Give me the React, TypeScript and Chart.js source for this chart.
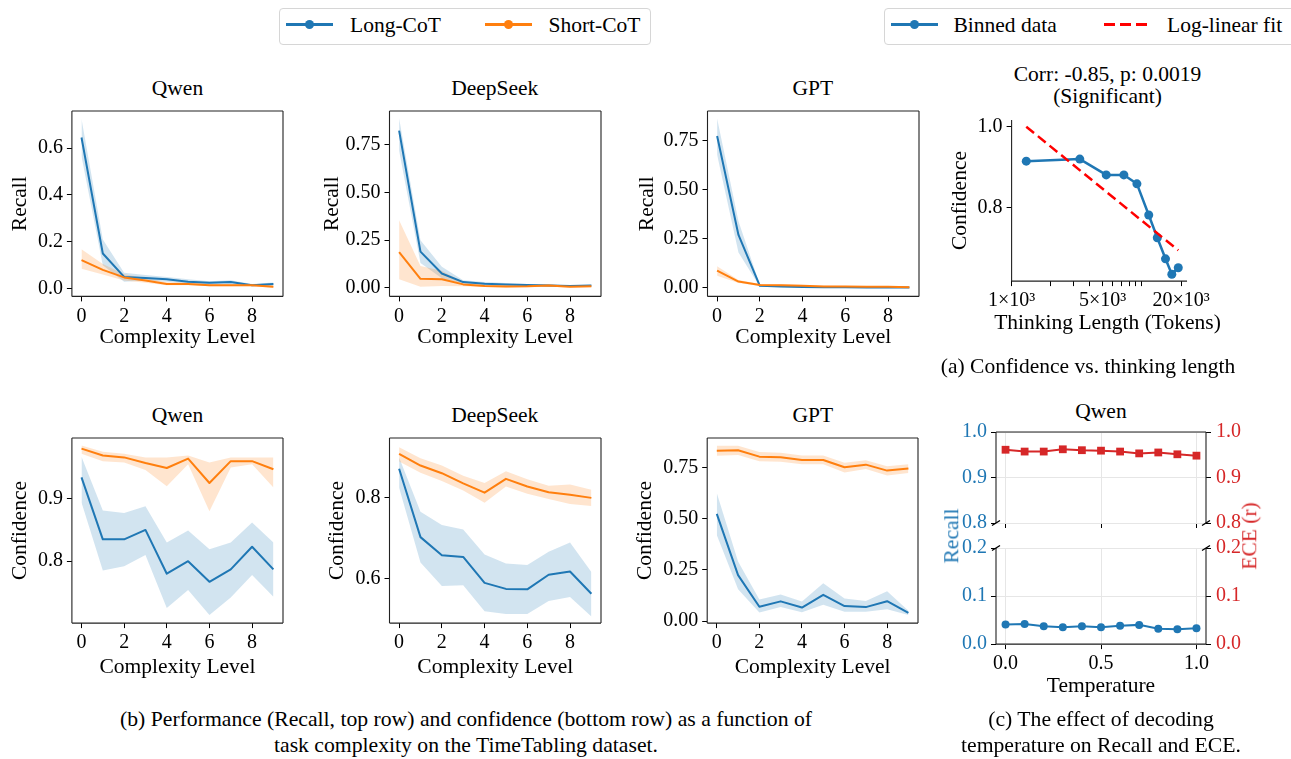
import React, { useEffect, useRef } from 'react';
import { Chart, registerables } from 'chart.js';
Chart.register(...registerables);

const FONT = '"Liberation Serif", "Times New Roman", Times, serif';
const BLUE = '#1f77b4';
const ORANGE = '#ff7f0e';
const RED = '#d62728';
const FIT_RED = '#ff0000';
const BLUE_BAND = 'rgba(31,119,180,0.2)';
const ORANGE_BAND = 'rgba(255,127,14,0.2)';

// ---------- data: complexity panels ----------
const complexityLevels = [0, 1, 2, 3, 4, 5, 6, 7, 8, 9];
const complexityTicks = [0, 2, 4, 6, 8];

// Recall, Qwen
const qwenRecallLong = [0.645, 0.150, 0.050, 0.045, 0.040, 0.030, 0.025, 0.028, 0.015, 0.020];
const qwenRecallLongLo = [0.565, 0.100, 0.030, 0.035, 0.030, 0.022, 0.018, 0.020, 0.010, 0.014];
const qwenRecallLongHi = [0.725, 0.210, 0.068, 0.058, 0.050, 0.040, 0.032, 0.036, 0.020, 0.026];
const qwenRecallShort = [0.122, 0.080, 0.048, 0.035, 0.020, 0.020, 0.015, 0.015, 0.015, 0.008];
const qwenRecallShortLo = [0.085, 0.060, 0.035, 0.025, 0.015, 0.015, 0.010, 0.010, 0.010, 0.004];
const qwenRecallShortHi = [0.168, 0.105, 0.062, 0.045, 0.027, 0.026, 0.020, 0.020, 0.020, 0.012];

// Recall, DeepSeek
const dsRecallLong = [0.825, 0.190, 0.075, 0.030, 0.022, 0.018, 0.015, 0.012, 0.010, 0.012];
const dsRecallLongLo = [0.720, 0.130, 0.050, 0.020, 0.015, 0.012, 0.010, 0.008, 0.006, 0.008];
const dsRecallLongHi = [0.890, 0.250, 0.110, 0.040, 0.030, 0.025, 0.020, 0.017, 0.014, 0.016];
const dsRecallShort = [0.187, 0.047, 0.045, 0.018, 0.010, 0.007, 0.008, 0.012, 0.006, 0.008];
const dsRecallShortLo = [0.045, 0.005, 0.010, 0.008, 0.004, 0.002, 0.003, 0.005, 0.002, 0.003];
const dsRecallShortHi = [0.355, 0.115, 0.090, 0.030, 0.017, 0.013, 0.014, 0.020, 0.011, 0.013];

// Recall, GPT
const gptRecallLong = [0.775, 0.270, 0.010, 0.006, 0.004, 0.003, 0.003, 0.002, 0.002, 0.002];
const gptRecallLongLo = [0.680, 0.180, 0.005, 0.003, 0.002, 0.001, 0.001, 0.001, 0.001, 0.001];
const gptRecallLongHi = [0.865, 0.340, 0.016, 0.010, 0.007, 0.005, 0.005, 0.004, 0.004, 0.004];
const gptRecallShort = [0.088, 0.032, 0.014, 0.013, 0.010, 0.007, 0.006, 0.005, 0.005, 0.003];
const gptRecallShortLo = [0.062, 0.024, 0.009, 0.008, 0.006, 0.004, 0.003, 0.003, 0.003, 0.001];
const gptRecallShortHi = [0.110, 0.040, 0.019, 0.018, 0.014, 0.010, 0.009, 0.008, 0.008, 0.006];

// Confidence, Qwen
const qwenConfLong = [0.934, 0.835, 0.835, 0.850, 0.780, 0.800, 0.767, 0.787, 0.823, 0.787];
const qwenConfLongLo = [0.894, 0.785, 0.792, 0.810, 0.725, 0.754, 0.714, 0.742, 0.778, 0.743];
const qwenConfLongHi = [0.967, 0.881, 0.877, 0.888, 0.830, 0.849, 0.819, 0.830, 0.862, 0.830];
const qwenConfShort = [0.980, 0.969, 0.966, 0.957, 0.949, 0.964, 0.925, 0.960, 0.960, 0.947];
const qwenConfShortLo = [0.972, 0.960, 0.958, 0.946, 0.920, 0.955, 0.880, 0.950, 0.955, 0.918];
const qwenConfShortHi = [0.985, 0.975, 0.972, 0.966, 0.966, 0.969, 0.958, 0.966, 0.966, 0.966];

// Confidence, DeepSeek
const dsConfLong = [0.872, 0.703, 0.658, 0.654, 0.590, 0.575, 0.574, 0.610, 0.618, 0.563];
const dsConfLongLo = [0.825, 0.640, 0.582, 0.584, 0.520, 0.513, 0.513, 0.545, 0.555, 0.507];
const dsConfLongHi = [0.900, 0.766, 0.733, 0.722, 0.660, 0.638, 0.634, 0.667, 0.690, 0.617];
const dsConfShort = [0.909, 0.880, 0.861, 0.836, 0.813, 0.847, 0.828, 0.814, 0.808, 0.800];
const dsConfShortLo = [0.890, 0.862, 0.842, 0.818, 0.788, 0.828, 0.810, 0.797, 0.785, 0.780];
const dsConfShortHi = [0.925, 0.898, 0.880, 0.855, 0.837, 0.866, 0.846, 0.830, 0.833, 0.820];

// Confidence, GPT
const gptConfLong = [0.523, 0.224, 0.070, 0.096, 0.066, 0.128, 0.073, 0.068, 0.097, 0.040];
const gptConfLongLo = [0.420, 0.155, 0.042, 0.068, 0.043, 0.080, 0.045, 0.045, 0.058, 0.030];
const gptConfLongHi = [0.625, 0.290, 0.105, 0.130, 0.095, 0.185, 0.110, 0.098, 0.145, 0.050];
const gptConfShort = [0.831, 0.833, 0.802, 0.799, 0.786, 0.786, 0.750, 0.763, 0.734, 0.744];
const gptConfShortLo = [0.807, 0.810, 0.780, 0.777, 0.765, 0.765, 0.725, 0.742, 0.710, 0.722];
const gptConfShortHi = [0.855, 0.855, 0.825, 0.821, 0.808, 0.808, 0.772, 0.785, 0.755, 0.765];

// ---------- data: confidence vs thinking length ----------
const thinkingLength = [1296, 3340, 5330, 7280, 9170, 11300, 13150, 15200, 17000, 19050];
const binnedConfidence = [0.915, 0.920, 0.881, 0.881, 0.859, 0.782, 0.726, 0.674, 0.636, 0.652];
const fitLength = [1296, 19050];
const fitConfidence = [1.0, 0.695];
const lengthTicks = [1000, 2000, 3000, 4000, 5000, 6000, 7000, 8000, 9000, 10000, 20000];
const lengthTickLabels: Record<number, string> = { 1000: '1×10³', 5000: '5×10³', 20000: '20×10³' };

// ---------- data: temperature ----------
const temperatures = [0.0, 0.1, 0.2, 0.3, 0.4, 0.5, 0.6, 0.7, 0.8, 0.9, 1.0];
const eceValues = [0.961, 0.957, 0.957, 0.962, 0.960, 0.959, 0.957, 0.953, 0.955, 0.951, 0.948];
const recallValues = [0.041, 0.042, 0.037, 0.035, 0.037, 0.035, 0.038, 0.040, 0.032, 0.031, 0.033];
const temperatureTicks = [0, 0.5, 1.0];

// ---------- helpers ----------
type Geo = { axisW: number; rightW: number; topPad: number; bottomH: number };

function axis(o: any) {
  const {
    key, min, max, ticks, fmt, size, title, position, type = 'linear',
    tickColor = '#000', grid = false, padding = 3, tickLength = 5,
  } = o;
  return {
    type, position, min, max,
    afterBuildTicks: (s: any) => { s.ticks = ticks.map((v: number) => ({ value: v })); },
    afterFit: (s: any) => { if (key === 'x') s.height = size; else s.width = size; },
    ticks: {
      autoSkip: false, maxRotation: 0, minRotation: 0, padding, color: tickColor,
      font: { family: FONT, size: 20 },
      callback: (v: any) => fmt(Number(v)),
    },
    grid: {
      display: true, drawOnChartArea: grid, drawTicks: true, tickLength,
      color: '#e6e6e6', lineWidth: 1, tickColor: '#000', tickWidth: 1,
    },
    border: { display: false },
    title: title
      ? { display: true, text: title, color: '#000', font: { family: FONT, size: 21.5, lineHeight: 1.2 }, padding: 0 }
      : { display: false },
  };
}

function framePlugin(sides: string, breaks?: 'top' | 'bottom') {
  return {
    id: 'frame',
    afterDraw(chart: any) {
      const { ctx, chartArea: a } = chart;
      ctx.save();
      ctx.strokeStyle = '#222';
      ctx.lineWidth = 1.1;
      ctx.beginPath();
      if (sides.includes('l')) { ctx.moveTo(a.left, a.top); ctx.lineTo(a.left, a.bottom); }
      if (sides.includes('r')) { ctx.moveTo(a.right, a.top); ctx.lineTo(a.right, a.bottom); }
      if (sides.includes('t')) { ctx.moveTo(a.left, a.top); ctx.lineTo(a.right, a.top); }
      if (sides.includes('b')) { ctx.moveTo(a.left, a.bottom); ctx.lineTo(a.right, a.bottom); }
      ctx.stroke();
      if (breaks) {
        const y = breaks === 'bottom' ? a.bottom : a.top;
        ctx.lineWidth = 1.4;
        ctx.strokeStyle = '#000';
        ctx.beginPath();
        for (const x of [a.left, a.right]) {
          ctx.moveTo(x - 4, y + 2.5);
          ctx.lineTo(x + 4, y - 2.5);
        }
        ctx.stroke();
      }
      ctx.restore();
    },
  };
}

const pts = (xs: number[], ys: number[]) => ys.map((y, i) => ({ x: xs[i], y }));

function bandDatasets(lm: number[], ll: number[], lh: number[], sm: number[], sl: number[], sh: number[]) {
  const base = { pointRadius: 0, pointHoverRadius: 0, tension: 0 };
  const X = complexityLevels;
  return [
    { ...base, data: pts(X, ll), borderWidth: 0, borderColor: 'rgba(0,0,0,0)', fill: false, order: 4 },
    { ...base, data: pts(X, lh), borderWidth: 0, borderColor: 'rgba(0,0,0,0)', backgroundColor: BLUE_BAND, fill: '-1', order: 4 },
    { ...base, data: pts(X, sl), borderWidth: 0, borderColor: 'rgba(0,0,0,0)', fill: false, order: 3 },
    { ...base, data: pts(X, sh), borderWidth: 0, borderColor: 'rgba(0,0,0,0)', backgroundColor: ORANGE_BAND, fill: '-1', order: 3 },
    { ...base, data: pts(X, lm), borderColor: BLUE, borderWidth: 2, borderJoinStyle: 'round', fill: false, order: 2 },
    { ...base, data: pts(X, sm), borderColor: ORANGE, borderWidth: 2, borderJoinStyle: 'round', fill: false, order: 1 },
  ];
}

function baseOptions(g: Geo, scales: any, extra: any = {}) {
  return {
    animation: false,
    responsive: false,
    maintainAspectRatio: false,
    events: [],
    layout: { padding: { left: 0, top: g.topPad, right: extra.rightPadding ?? g.rightW, bottom: 0 } },
    plugins: { legend: { display: false }, tooltip: { enabled: false }, title: { display: false } },
    scales,
  };
}

function ChartPanel(props: { l: number; t: number; w: number; h: number; geo: Geo; build: (g: Geo) => any }) {
  const ref = useRef<HTMLCanvasElement>(null);
  const { l, t, w, h, geo, build } = props;
  const cw = Math.round(geo.axisW + w + geo.rightW);
  const ch = Math.round(geo.topPad + h + geo.bottomH);
  useEffect(() => {
    const chart = new Chart(ref.current as HTMLCanvasElement, build(geo));
    return () => chart.destroy();
  }, []);
  return (
    <canvas
      ref={ref}
      width={cw}
      height={ch}
      style={{ position: 'absolute', left: l - geo.axisW, top: t - geo.topPad, width: cw, height: ch }}
    />
  );
}

function complexityPanel(
  yMin: number, yMax: number, yTicks: number[], dec: number, yTitle: string,
  series: number[][],
) {
  return (g: Geo) => ({
    type: 'line',
    data: { datasets: bandDatasets(series[0], series[1], series[2], series[3], series[4], series[5]) },
    options: baseOptions(g, {
      x: axis({ key: 'x', position: 'bottom', min: -0.45, max: 9.45, ticks: complexityTicks, fmt: (v: number) => String(v), size: g.bottomH, title: 'Complexity Level' }),
      y: axis({ key: 'y', position: 'left', min: yMin, max: yMax, ticks: yTicks, fmt: (v: number) => v.toFixed(dec), size: g.axisW, title: yTitle, padding: 4 }),
    }),
    plugins: [framePlugin('lrtb')],
  });
}

const TITLE_OFF = 12.9; // half of title line height (21.5 * 1.2 / 2)

function Txt(p: { x: number; y: number; size?: number; color?: string; rotate?: boolean; children: any; align?: 'center' | 'left' }) {
  const { x, y, size = 21.5, color = '#000', rotate, align = 'center' } = p;
  const tr = align === 'center' ? 'translate(-50%,-50%)' : 'translate(0,-50%)';
  return (
    <div
      style={{
        position: 'absolute', left: x, top: y, fontSize: size, lineHeight: 1, color,
        whiteSpace: 'nowrap', transform: rotate ? `${tr} rotate(-90deg)` : tr, fontFamily: FONT,
      }}
    >
      {p.children}
    </div>
  );
}

function Handle(p: { x1: number; x2: number; y: number; color: string; dot?: boolean; dashed?: boolean }) {
  const { x1, x2, y, color, dot = true, dashed = false } = p;
  const thick = dashed ? 3 : 2.5;
  return (
    <>
      <div
        style={{
          position: 'absolute', left: x1, top: y - thick / 2, width: x2 - x1, height: thick,
          background: dashed ? `repeating-linear-gradient(90deg, ${color} 0 11px, transparent 11px 16px)` : color,
        }}
      />
      {dot && (
        <div style={{ position: 'absolute', left: (x1 + x2) / 2 - 4.5, top: y - 4.5, width: 9, height: 9, borderRadius: '50%', background: color }} />
      )}
    </>
  );
}

// ---------- panels ----------
const TOP_T = 111, TOP_H = 185, BOT_T = 438, BOT_H = 185, PW = 211;
const COLS = [72, 389.3, 707.3];

export default function App() {
  const topGeo = (ylabOff: number): Geo => ({ axisW: ylabOff + TITLE_OFF, rightW: 10, topPad: 20, bottomH: 40.7 + TITLE_OFF });
  const botGeo = (ylabOff: number): Geo => ({ axisW: ylabOff + TITLE_OFF, rightW: 10, topPad: 20, bottomH: 44 + TITLE_OFF });

  const lengthPanel = (g: Geo) => ({
    type: 'line',
    data: {
      datasets: [
        {
          data: pts(fitLength, fitConfidence), borderColor: FIT_RED, borderWidth: 2.5, borderDash: [10, 5],
          pointRadius: 0, fill: false, order: 0, tension: 0,
        },
        {
          data: pts(thinkingLength, binnedConfidence), borderColor: BLUE, borderWidth: 2.5,
          pointRadius: 4.5, pointBackgroundColor: BLUE, pointBorderColor: BLUE, pointBorderWidth: 0,
          fill: false, order: 1, tension: 0, borderJoinStyle: 'round',
        },
      ],
    },
    options: baseOptions(g, {
      x: axis({
        key: 'x', type: 'logarithmic', position: 'bottom', min: 1000, max: 22250, ticks: lengthTicks,
        fmt: (v: number) => lengthTickLabels[v] ?? '', size: g.bottomH,
      }),
      y: axis({ key: 'y', position: 'left', min: 0.619, max: 1.0165, ticks: [0.8, 1.0], fmt: (v: number) => v.toFixed(1), size: g.axisW, title: 'Confidence', padding: 4 }),
    }),
    plugins: [framePlugin('lb')],
  });

  const tempScales = (g: Geo, min: number, max: number, yt: number[], showX: boolean) => ({
    x: axis({
      key: 'x', position: 'bottom', min: -0.05, max: 1.05, ticks: temperatureTicks,
      fmt: (v: number) => (showX ? v.toFixed(1) : ''), size: g.bottomH, title: showX ? 'Temperature' : undefined, grid: true,
    }),
    y: axis({ key: 'y', position: 'left', min, max, ticks: yt, fmt: (v: number) => v.toFixed(1), size: g.axisW, tickColor: BLUE, grid: true, padding: 4 }),
    y2: axis({ key: 'y', position: 'right', min, max, ticks: yt, fmt: (v: number) => v.toFixed(1), size: g.rightW, tickColor: RED, padding: 5 }),
  });

  const tempTop = (g: Geo) => ({
    type: 'line',
    data: {
      datasets: [
        {
          data: pts(temperatures, eceValues), yAxisID: 'y2', borderColor: RED, borderWidth: 2,
          pointStyle: 'rect', pointRadius: 5.5, pointBackgroundColor: RED, pointBorderWidth: 0, fill: false, tension: 0,
        },
      ],
    },
    options: baseOptions(g, tempScales(g, 0.8, 1.0, [0.8, 0.9, 1.0], false), { rightPadding: 0 }),
    plugins: [framePlugin('lrt', 'bottom')],
  });

  const tempBottom = (g: Geo) => ({
    type: 'line',
    data: {
      datasets: [
        {
          data: pts(temperatures, recallValues), yAxisID: 'y', borderColor: BLUE, borderWidth: 2,
          pointStyle: 'circle', pointRadius: 4, pointBackgroundColor: BLUE, pointBorderWidth: 0, fill: false, tension: 0,
        },
      ],
    },
    options: baseOptions(g, tempScales(g, 0.0, 0.2, [0.0, 0.1, 0.2], true), { rightPadding: 0 }),
    plugins: [framePlugin('lrb', 'top')],
  });

  return (
    <div style={{ position: 'fixed', left: 0, top: 0, width: 1291, height: 759, background: '#fff', overflow: 'hidden', fontFamily: FONT, color: '#000' }}>
      {/* legends */}
      <div style={{ position: 'absolute', left: 278.5, top: 7.5, width: 372, height: 37, border: '1px solid #d6d6d6', borderRadius: 4, boxSizing: 'border-box' }} />
      <Handle x1={286} x2={333} y={24.5} color={BLUE} />
      <Txt x={350} y={25.5} align="left">Long-CoT</Txt>
      <Handle x1={485} x2={532} y={24.5} color={ORANGE} />
      <Txt x={548.5} y={25.5} align="left">Short-CoT</Txt>

      <div style={{ position: 'absolute', left: 883.5, top: 7.5, width: 430, height: 37, border: '1px solid #d6d6d6', borderRadius: 4, boxSizing: 'border-box' }} />
      <Handle x1={891} x2={938} y={24.5} color={BLUE} />
      <Txt x={953.5} y={25.5} align="left">Binned data</Txt>
      <Handle x1={1104} x2={1147} y={24.5} color={FIT_RED} dot={false} dashed />
      <Txt x={1167} y={25.5} align="left">Log-linear fit</Txt>

      {/* titles */}
      <Txt x={COLS[0] + PW / 2} y={88.5}>Qwen</Txt>
      <Txt x={COLS[1] + PW / 2} y={88.5}>DeepSeek</Txt>
      <Txt x={COLS[2] + PW / 2} y={88.5}>GPT</Txt>
      <Txt x={COLS[0] + PW / 2} y={416}>Qwen</Txt>
      <Txt x={COLS[1] + PW / 2} y={416}>DeepSeek</Txt>
      <Txt x={COLS[2] + PW / 2} y={416}>GPT</Txt>
      <Txt x={1107.5} y={75}>Corr: -0.85, p: 0.0019</Txt>
      <Txt x={1107.5} y={96.5}>(Significant)</Txt>
      <Txt x={1101} y={411.5}>Qwen</Txt>

      {/* top row: recall */}
      <ChartPanel l={COLS[0]} t={TOP_T} w={PW} h={TOP_H} geo={topGeo(52)}
        build={complexityPanel(-0.033, 0.758, [0, 0.2, 0.4, 0.6], 1, 'Recall',
          [qwenRecallLong, qwenRecallLongLo, qwenRecallLongHi, qwenRecallShort, qwenRecallShortLo, qwenRecallShortHi])} />
      <ChartPanel l={COLS[1]} t={TOP_T} w={PW} h={TOP_H} geo={topGeo(57.6)}
        build={complexityPanel(-0.045, 0.928, [0, 0.25, 0.5, 0.75], 2, 'Recall',
          [dsRecallLong, dsRecallLongLo, dsRecallLongHi, dsRecallShort, dsRecallShortLo, dsRecallShortHi])} />
      <ChartPanel l={COLS[2]} t={TOP_T} w={PW} h={TOP_H} geo={topGeo(60.6)}
        build={complexityPanel(-0.044, 0.903, [0, 0.25, 0.5, 0.75], 2, 'Recall',
          [gptRecallLong, gptRecallLongLo, gptRecallLongHi, gptRecallShort, gptRecallShortLo, gptRecallShortHi])} />

      {/* bottom row: confidence */}
      <ChartPanel l={COLS[0]} t={BOT_T} w={PW} h={BOT_H} geo={botGeo(52)}
        build={complexityPanel(0.701, 0.997, [0.8, 0.9], 1, 'Confidence',
          [qwenConfLong, qwenConfLongLo, qwenConfLongHi, qwenConfShort, qwenConfShortLo, qwenConfShortHi])} />
      <ChartPanel l={COLS[1]} t={BOT_T} w={PW} h={BOT_H} geo={botGeo(52.6)}
        build={complexityPanel(0.4905, 0.948, [0.6, 0.8], 1, 'Confidence',
          [dsConfLong, dsConfLongLo, dsConfLongHi, dsConfShort, dsConfShortLo, dsConfShortHi])} />
      <ChartPanel l={COLS[2]} t={BOT_T} w={PW} h={BOT_H} geo={botGeo(62.3)}
        build={complexityPanel(-0.01, 0.893, [0, 0.25, 0.5, 0.75], 2, 'Confidence',
          [gptConfLong, gptConfLongLo, gptConfLongHi, gptConfShort, gptConfShortLo, gptConfShortHi])} />

      {/* (a) confidence vs thinking length */}
      <ChartPanel l={1011.7} t={120} w={191.6} h={161} geo={{ axisW: 51.7 + TITLE_OFF, rightW: 10, topPad: 20, bottomH: 42 + TITLE_OFF }} build={lengthPanel} />
      <Txt x={1107.5} y={323}>Thinking Length (Tokens)</Txt>

      {/* (c) temperature, broken axis */}
      <ChartPanel l={996} t={432} w={210} h={98} geo={{ axisW: 60, rightW: 50, topPad: 20, bottomH: 10 }} build={tempTop} />
      <ChartPanel l={996} t={545} w={210} h={99} geo={{ axisW: 60, rightW: 50, topPad: 14, bottomH: 42 + TITLE_OFF }} build={tempBottom} />
      <Txt x={951.7} y={536} color={BLUE} rotate>Recall</Txt>
      <Txt x={1250} y={536} color={RED} rotate>ECE (r)</Txt>

      {/* captions */}
      <Txt x={1088} y={366.5}>(a) Confidence vs. thinking length</Txt>
      <Txt x={466} y={720} size={21.7}>(b) Performance (Recall, top row) and confidence (bottom row) as a function of</Txt>
      <Txt x={466} y={746} size={21.7}>task complexity on the TimeTabling dataset.</Txt>
      <Txt x={1101} y={720} size={21.7}>(c) The effect of decoding</Txt>
      <Txt x={1101} y={746} size={21.7}>temperature on Recall and ECE.</Txt>
    </div>
  );
}
